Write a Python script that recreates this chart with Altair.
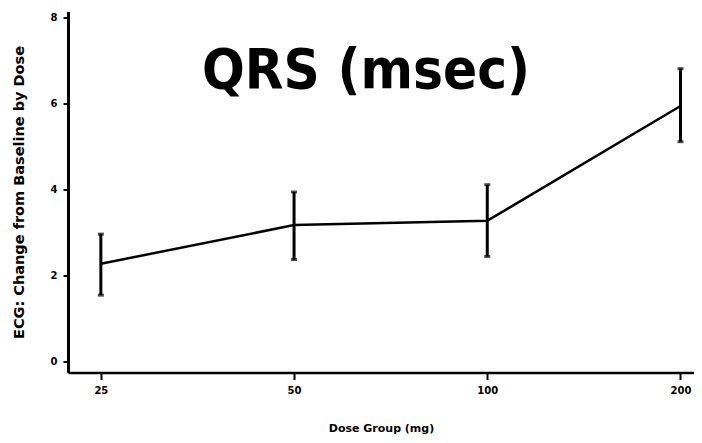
import altair as alt
import pandas as pd

doses = ["25", "50", "100", "200"]
means = [2.28, 3.18, 3.28, 5.95]
lower = [1.55, 2.38, 2.45, 5.12]
upper = [2.97, 3.95, 4.12, 6.82]
y_ticks = [0, 2, 4, 6, 8]

df = pd.DataFrame({
    "idx": list(range(len(doses))),
    "dose": doses,
    "mean": means,
    "lo": lower,
    "hi": upper,
})

label_expr = "[" + ",".join(f"'{d}'" for d in doses) + "][datum.value]"

FONT = "DejaVu Sans"

x_enc = alt.X(
    "idx:Q",
    scale=alt.Scale(domain=[-0.17, 3.07], nice=False, zero=False),
    axis=alt.Axis(
        values=list(range(len(doses))),
        labelExpr=label_expr,
        title="Dose Group (mg)",
        grid=False,
        tickSize=7,
        tickWidth=2,
        labelPadding=6,
        titlePadding=27,
        domainWidth=2.5,
    ),
)
y_axis = alt.Axis(
    values=y_ticks,
    title="ECG:  Change from Baseline by Dose",
    grid=False,
    tickSize=5,
    tickWidth=2,
    labelPadding=6,
    titlePadding=24,
    domainWidth=3,
)
y_scale = alt.Scale(domain=[-0.25, 8.15], nice=False, zero=False)

base = alt.Chart(df)

line = base.mark_line(color="black", strokeWidth=2.5).encode(
    x=x_enc,
    y=alt.Y("mean:Q", scale=y_scale, axis=y_axis),
)
bars = base.mark_rule(color="black", strokeWidth=3).encode(
    x=x_enc,
    y=alt.Y("lo:Q", scale=y_scale, axis=y_axis),
    y2="hi:Q",
)
cap_lo = base.mark_tick(color="black", size=6, thickness=3, orient="horizontal").encode(
    x=x_enc,
    y=alt.Y("lo:Q", scale=y_scale, axis=y_axis),
)
cap_hi = base.mark_tick(color="black", size=6, thickness=3, orient="horizontal").encode(
    x=x_enc,
    y=alt.Y("hi:Q", scale=y_scale, axis=y_axis),
)

chart = (
    alt.layer(bars, cap_lo, cap_hi, line)
    .properties(
        width=626,
        height=361,
        autosize=alt.AutoSizeParams(type="none"),
        padding={"left": 60, "top": 3.5, "right": 0, "bottom": 70},
        title=alt.TitleParams(
            "QRS (msec)",
            font="DejaVu Sans Condensed",
            fontWeight="bold",
            fontSize=56,
            offset=0,
            dy=132,
            dx=-15,
            baseline="alphabetic",
            anchor="middle",
            color="black",
        ),
    )
    .configure_view(stroke=None)
    .configure_axis(
        domainColor="black",
        tickColor="black",
        labelColor="black",
        titleColor="black",
        labelFont=FONT,
        titleFont=FONT,
        labelFontWeight="bold",
        titleFontWeight="bold",
        labelFontSize=10,
    )
    .configure_axisX(titleFontSize=11)
    .configure_axisY(titleFontSize=14.5, labelAngle=0)
)

chart.save("out.html", embed_options={"renderer": "svg", "actions": False})
